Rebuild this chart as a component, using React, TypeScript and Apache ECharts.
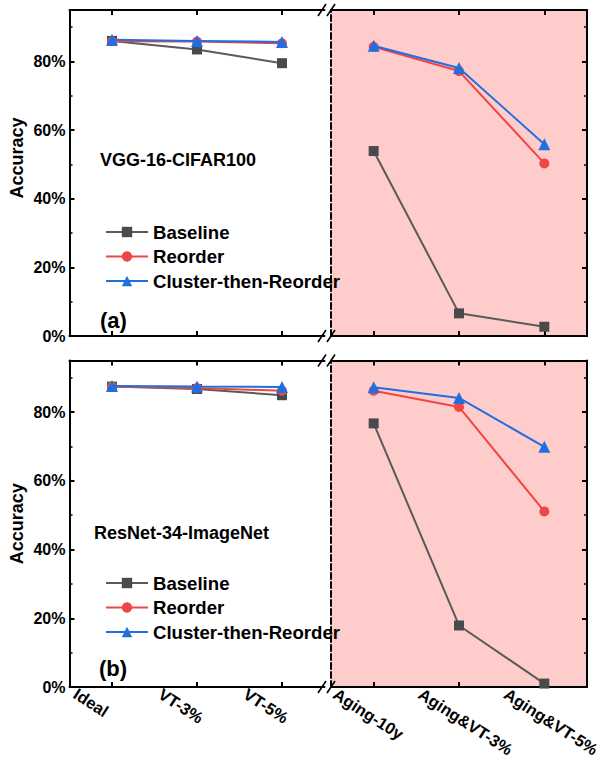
import React, { useEffect, useRef } from 'react';
import * as echarts from 'echarts';

const leftCategories = ['Ideal', 'VT-3%', 'VT-5%'];
const rightCategories = ['Aging-10y', 'Aging&VT-3%', 'Aging&VT-5%'];
const seriesNames = ['Baseline', 'Reorder', 'Cluster-then-Reorder'];

// values in %, order: Ideal, VT-3%, VT-5%, Aging-10y, Aging&VT-3%, Aging&VT-5%
const vggBaseline = [86.0, 83.5, 79.5, 53.9, 6.6, 2.7];
const vggReorder = [85.9, 85.8, 85.3, 84.3, 77.2, 50.3];
const vggCluster = [86.3, 86.0, 85.7, 84.6, 78.1, 55.9];
const resBaseline = [87.4, 86.7, 84.9, 76.7, 17.9, 1.0];
const resReorder = [87.4, 87.0, 86.2, 86.2, 81.5, 51.1];
const resCluster = [87.6, 87.4, 87.3, 87.2, 84.1, 69.9];

const panelTitles = ['VGG-16-CIFAR100', 'ResNet-34-ImageNet'];
const panelTags = ['(a)', '(b)'];
const yAxisName = 'Accuracy';

const FONT = "'Liberation Sans', Arial, Helvetica, sans-serif";

const seriesStyles = [
  { symbol: 'rect', size: 10, color: '#4a4a4a', line: '#5a5a5a' },
  { symbol: 'circle', size: 10, color: '#f04545', line: '#f04545' },
  { symbol: 'triangle', size: 12, color: '#1f6fe0', line: '#1f6fe0' },
];

function buildOption() {
  const panelData = [
    [vggBaseline, vggReorder, vggCluster],
    [resBaseline, resReorder, resCluster],
  ];
  const panelTop = [10, 360.5];
  const panelHeight = [326, 326.5];
  const leftX = 69.5;
  const leftW = 255;
  const rightX = 331;
  const rightW = 256;

  const grids: any[] = [];
  for (let p = 0; p < 2; p++) {
    grids.push({ left: leftX, top: panelTop[p], width: leftW, height: panelHeight[p], outerBoundsMode: 'none' });
    grids.push({
      left: rightX, top: panelTop[p], width: rightW, height: panelHeight[p], outerBoundsMode: 'none',
      show: true, backgroundColor: '#ffcccc', borderWidth: 0,
    });
  }
  // label grids (bottom panel only)
  grids.push({ left: leftX - 32, top: panelTop[1], width: leftW, height: panelHeight[1], outerBoundsMode: 'none' });
  grids.push({ left: rightX - 34, top: panelTop[1], width: rightW, height: panelHeight[1], outerBoundsMode: 'none' });

  const lineSt = { color: '#000', width: 2 };
  const frameX = (gridIndex: number, position: string, data: string[]) => ({
    type: 'category', gridIndex, position, data, boundaryGap: true,
    axisLine: { show: true, onZero: false, lineStyle: lineSt },
    axisTick: { show: true, inside: true, alignWithLabel: true, interval: 0, length: 5, lineStyle: lineSt },
    axisLabel: { show: false },
    splitLine: { show: false },
  });

  const xAxes: any[] = [];
  for (let p = 0; p < 2; p++) {
    xAxes.push(frameX(p * 2, 'bottom', leftCategories));
    xAxes.push(frameX(p * 2, 'top', leftCategories));
    xAxes.push(frameX(p * 2 + 1, 'bottom', rightCategories));
    xAxes.push(frameX(p * 2 + 1, 'top', rightCategories));
  }
  const labelX = (gridIndex: number, data: string[]) => ({
    type: 'category', gridIndex, position: 'bottom', data, boundaryGap: true,
    axisLine: { show: false, onZero: false },
    axisTick: { show: false },
    splitLine: { show: false },
    axisLabel: {
      show: true, interval: 0, rotate: -33, align: 'left', verticalAlign: 'top', margin: -2,
      color: '#000', fontSize: 16.5, fontWeight: 'bold', fontFamily: FONT, hideOverlap: false,
    },
  });
  xAxes.push(labelX(4, leftCategories));
  xAxes.push(labelX(5, rightCategories));

  const mainY = (gridIndex: number, position: string, withLabels: boolean, shiftUp: number) => ({
    type: 'value', gridIndex, position, min: 0, max: 95, interval: 20,
    axisLine: { show: true, onZero: false, lineStyle: lineSt },
    axisTick: { show: true, inside: true, length: 5, lineStyle: lineSt },
    axisLabel: withLabels
      ? { show: true, formatter: '{value}%', margin: 4, showMaxLabel: false, color: '#000', fontSize: 16, fontWeight: 'bold', fontFamily: FONT }
      : { show: false },
    splitLine: { show: false },
    name: withLabels ? yAxisName : '',
    nameLocation: 'middle', nameGap: 44, nameRotate: 90,
    nameTextStyle: { color: '#000', fontSize: 18, fontWeight: 'bold', fontFamily: FONT, padding: [0, 0, 0, shiftUp * 2] },
  });
  const minorY = (gridIndex: number, position: string) => ({
    type: 'value', gridIndex, position, min: 0, max: 95, interval: 10,
    axisLine: { show: false, onZero: false },
    axisTick: { show: true, inside: true, length: 3, lineStyle: { color: '#000', width: 1.5 } },
    axisLabel: { show: false },
    splitLine: { show: false },
  });
  const dashedY = (gridIndex: number) => ({
    type: 'value', gridIndex, position: 'left', min: 0, max: 95,
    axisLine: { show: true, onZero: false, lineStyle: { color: '#000', width: 2, type: [6, 3] } },
    axisTick: { show: false },
    axisLabel: { show: false },
    splitLine: { show: false },
  });

  const yAxes: any[] = [];
  const mainYIndex: number[] = [];
  const nameShift = [15, 0];
  for (let p = 0; p < 2; p++) {
    mainYIndex.push(yAxes.length);
    yAxes.push(mainY(p * 2, 'left', true, nameShift[p]));
    yAxes.push(minorY(p * 2, 'left'));
    mainYIndex.push(yAxes.length);
    yAxes.push(mainY(p * 2 + 1, 'right', false, 0));
    yAxes.push(minorY(p * 2 + 1, 'right'));
    yAxes.push(dashedY(p * 2 + 1));
  }
  yAxes.push({ type: 'value', gridIndex: 4, show: false, min: 0, max: 95, splitLine: { show: false } });
  yAxes.push({ type: 'value', gridIndex: 5, show: false, min: 0, max: 95, splitLine: { show: false } });

  const series: any[] = [];
  for (let p = 0; p < 2; p++) {
    for (let s = 0; s < 2; s++) {
      const g = p * 2 + s;
      for (let k = 0; k < 3; k++) {
        const st = seriesStyles[k];
        series.push({
          type: 'line', name: seriesNames[k],
          xAxisIndex: p * 4 + s * 2, yAxisIndex: mainYIndex[g],
          data: panelData[p][k].slice(s * 3, s * 3 + 3),
          symbol: st.symbol, symbolSize: st.size, showAllSymbol: true, clip: false,
          itemStyle: { color: st.color },
          lineStyle: { color: st.line, width: 2 },
          z: 3 + k,
        });
      }
    }
  }

  const legendTops = [215, 566];
  const legends = legendTops.map((top) => ({
    orient: 'vertical', left: 100, top, itemWidth: 42, itemHeight: 13, itemGap: 0.5,
    data: seriesNames, selectedMode: false,
    textStyle: { color: '#000', fontSize: 18.6, fontWeight: 'bold', fontFamily: FONT, lineHeight: 24 },
  }));

  const txt = (x: number, y: number, text: string, size: number) => ({
    type: 'text', x, y, z: 100,
    style: {
      text, fill: '#000', font: `bold ${size}px ${FONT}`,
      align: 'left', verticalAlign: 'middle', textAlign: 'left', textVerticalAlign: 'middle',
    },
  });
  const graphics: any[] = [
    txt(100, 160, panelTitles[0], 18),
    txt(100, 320.5, panelTags[0], 22),
    txt(94, 533, panelTitles[1], 18),
    txt(99, 668.5, panelTags[1], 22),
  ];
  const breakYs = [10, 336, 360.5, 687];
  const breakXs = [322, 331];
  breakYs.forEach((y) => {
    breakXs.forEach((cx) => {
      graphics.push({
        type: 'line', z: 100,
        shape: { x1: cx - 4, y1: y + 6, x2: cx + 4, y2: y - 6 },
        style: { stroke: '#000', lineWidth: 1.6 },
      });
    });
  });

  return {
    animation: false,
    backgroundColor: '#ffffff',
    grid: grids,
    xAxis: xAxes,
    yAxis: yAxes,
    legend: legends,
    series,
    graphic: graphics,
  };
}

export default function App() {
  const ref = useRef<HTMLDivElement>(null);
  useEffect(() => {
    document.body.style.margin = '0';
    if (!ref.current) return;
    const chart = echarts.init(ref.current, null, { renderer: 'svg' });
    chart.setOption(buildOption() as any);
    return () => chart.dispose();
  }, []);
  return <div ref={ref} style={{ width: 608, height: 762 }} />;
}
